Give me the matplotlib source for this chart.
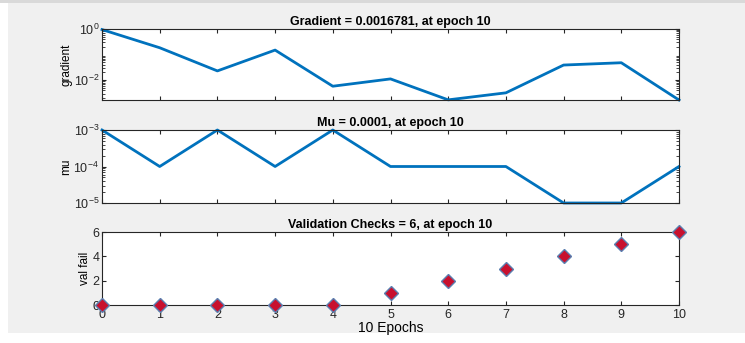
import numpy as np
import matplotlib.pyplot as plt
from matplotlib.patches import Rectangle

# Datos
epochs = np.arange(0, 11)
gradient = [0.95, 0.185, 0.023, 0.15, 0.0058, 0.0112, 0.0017, 0.0032, 0.039, 0.048, 0.0016781]
mu = [1e-3, 1e-4, 1e-3, 1e-4, 1e-3, 1e-4, 1e-4, 1e-4, 1e-5, 1e-5, 1e-4]
val_fail = [0, 0, 0, 0, 0, 1, 2, 3, 4, 5, 6]

plt.rcParams['font.family'] = ['Liberation Sans', 'DejaVu Sans']
plt.rcParams['font.size'] = 8

fig = plt.figure(figsize=(7.45, 3.43), dpi=100, facecolor='white')
# fondo gris tipo ventana MATLAB
fig.patches.append(Rectangle((8 / 745, 1 - 333 / 343), 737 / 745, 330 / 343,
                             transform=fig.transFigure, facecolor='#f0f0f0',
                             edgecolor='none', zorder=-10))
fig.patches.append(Rectangle((0, 1 - 3 / 343), 1, 3 / 343, transform=fig.transFigure,
                             facecolor='#d9d9d9', edgecolor='none', zorder=-10))

left, width = 102 / 745, 577 / 745
ax1 = fig.add_axes([left, 1 - 100 / 343, width, 71 / 343])
ax2 = fig.add_axes([left, 1 - 203 / 343, width, 73 / 343])
ax3 = fig.add_axes([left, 1 - 305 / 343, width, 73 / 343])

line_color = '#0072BD'

# Gradiente
ax1.semilogy(epochs, gradient, color=line_color, lw=2, clip_on=False)
ax1.set_ylim(min(gradient), 1)
ax1.set_yticks([1, 1e-2])
ax1.set_title('Gradient = 0.0016781, at epoch 10', fontweight='bold', fontsize=9, pad=3)
ax1.set_ylabel('gradient', fontsize=8.5, labelpad=1)

# Mu
ax2.semilogy(epochs, mu, color=line_color, lw=2, clip_on=False)
ax2.set_ylim(1e-5, 1e-3)
ax2.set_yticks([1e-5, 1e-4, 1e-3])
ax2.set_title('Mu = 0.0001, at epoch 10', fontweight='bold', fontsize=9, pad=3)
ax2.set_ylabel('mu', fontsize=8.5, labelpad=1)

# Validacion
ax3.plot(epochs, val_fail, 'D', markersize=7, markerfacecolor='#c8102e',
         markeredgecolor='#5a7fb0', markeredgewidth=1, clip_on=False, zorder=5)
ax3.set_ylim(0, 6)
ax3.set_yticks([0, 2, 4, 6])
ax3.set_title('Validation Checks = 6, at epoch 10', fontweight='bold', fontsize=9, pad=3)
ax3.set_ylabel('val fail', fontsize=8.5, labelpad=1)
ax3.set_xlabel('10 Epochs', fontsize=10, labelpad=0)

for ax in (ax1, ax2, ax3):
    ax.set_xlim(0, 10)
    ax.set_xticks(epochs)
    ax.tick_params(which='both', direction='in', top=True, right=True, length=3,
                   pad=2, labelsize=9, colors='#262626')
    ax.tick_params(which='minor', length=2)
    for s in ax.spines.values():
        s.set_color('#262626')
        s.set_linewidth(0.8)
    ax.set_facecolor('white')

ax1.tick_params(labelbottom=False)
ax2.tick_params(labelbottom=False)
ax3.tick_params(axis='x', pad=3)

fig.savefig('out.png', dpi=100, facecolor=fig.get_facecolor())
